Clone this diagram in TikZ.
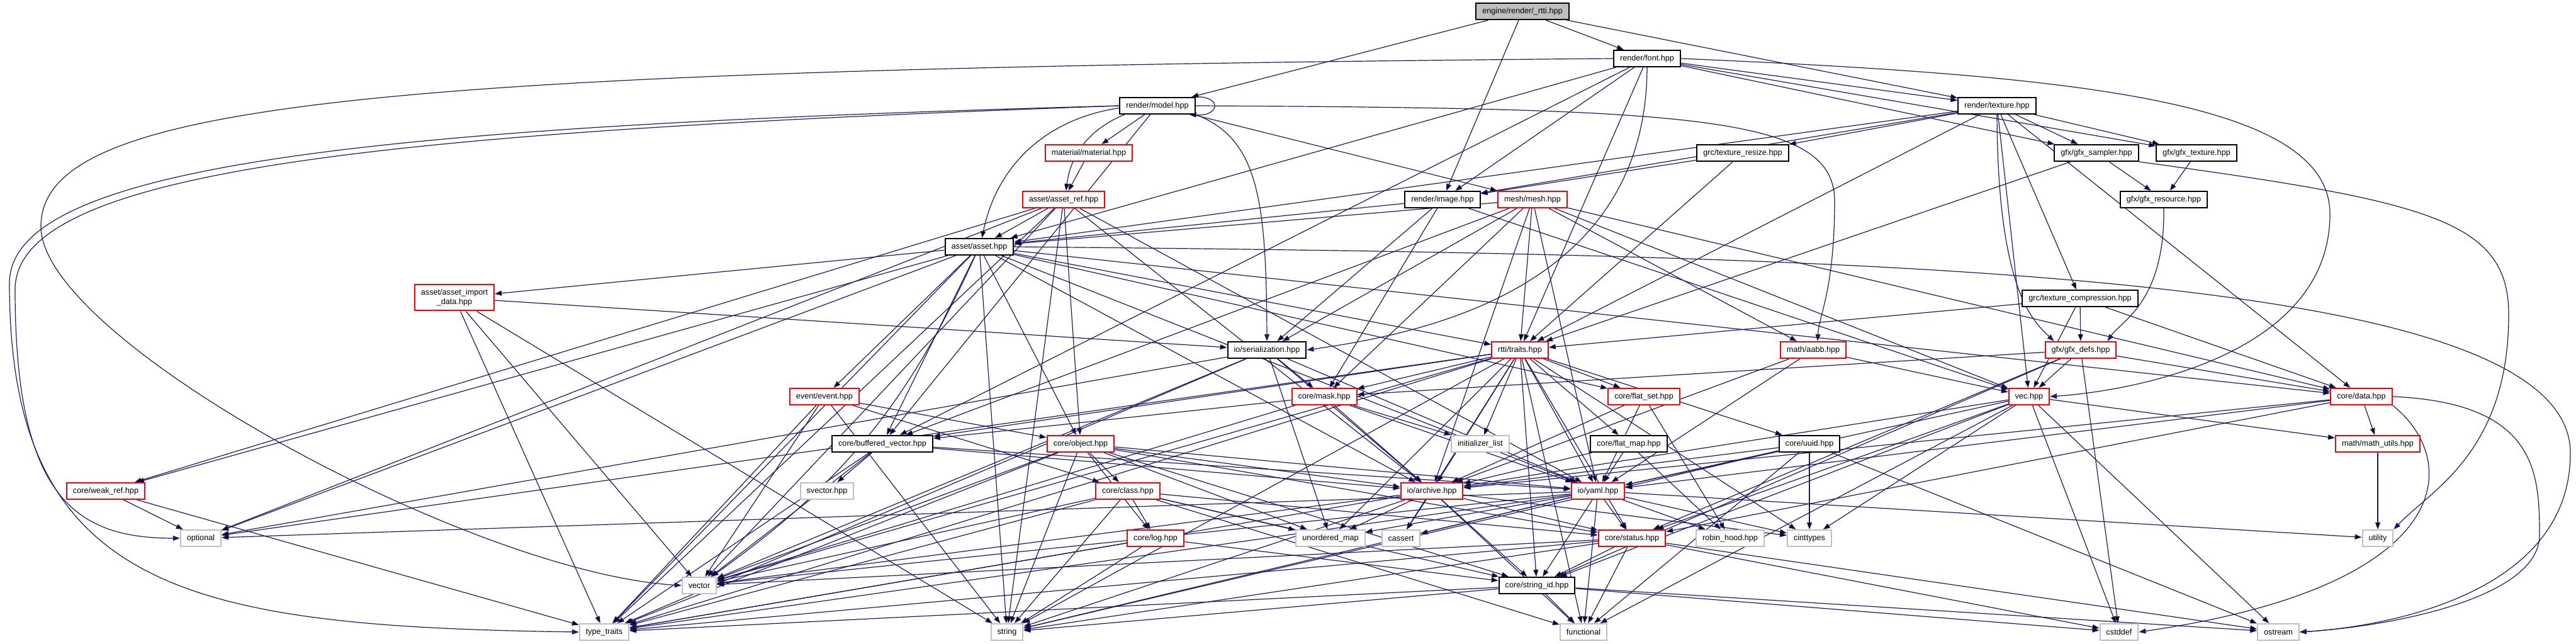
\documentclass[tikz,border=0pt]{standalone}
\usepackage{fontspec}
\setmainfont{Liberation Sans}
\usetikzlibrary{arrows.meta}
\definecolor{edgeblue}{HTML}{191970}
\definecolor{truncred}{HTML}{FF0000}
\definecolor{sysgray}{HTML}{BFBFBF}
\pgfdeclarelayer{background}
\pgfsetlayers{background,main}

\begin{document}
\begin{tikzpicture}[
  every node/.style={font=\fontsize{3.6}{4.3}\selectfont},
  hdr/.style={rectangle, draw=black, line width=0.02cm, fill=white, inner xsep=0.1cm, inner ysep=0cm, minimum height=0.26cm, align=center},
  trunc/.style={hdr, draw=truncred},
  sys/.style={hdr, draw=sysgray},
  dep/.style={-{Triangle[length=0.11cm,width=0.08cm]}, draw=edgeblue, line width=0.012cm}
]
\useasboundingbox (0,0) rectangle (40.93,-10.23);

% headers of the project
\node[hdr, fill=sysgray] (root) at (24.19,-0.18) {engine/render/\_rtti.hpp};
\node[hdr] (font) at (26.17,-0.93) {render/font.hpp};
\node[hdr] (model) at (18.39,-1.68) {render/model.hpp};
\node[hdr] (texture) at (31.73,-1.68) {render/texture.hpp};
\node[trunc] (material) at (17.30,-2.43) {material/material.hpp};
\node[hdr] (texresize) at (27.69,-2.43) {grc/texture\_resize.hpp};
\node[hdr] (sampler) at (33.31,-2.43) {gfx/gfx\_sampler.hpp};
\node[hdr] (gfxtex) at (34.90,-2.43) {gfx/gfx\_texture.hpp};
\node[trunc] (assetref) at (16.90,-3.17) {asset/asset\_ref.hpp};
\node[hdr] (image) at (22.92,-3.17) {render/image.hpp};
\node[trunc] (mesh) at (24.35,-3.17) {mesh/mesh.hpp};
\node[hdr] (gfxres) at (34.38,-3.17) {gfx/gfx\_resource.hpp};
\node[hdr] (asset) at (15.56,-3.92) {asset/asset.hpp};
\node[trunc, minimum height=0.41cm] (importdata) at (7.22,-4.73) {asset/asset\_import\\\_data.hpp};
\node[hdr] (texcomp) at (33.05,-4.74) {grc/texture\_compression.hpp};
\node[hdr] (serial) at (20.13,-5.56) {io/serialization.hpp};
\node[trunc] (traits) at (24.15,-5.56) {rtti/traits.hpp};
\node[trunc] (aabb) at (28.81,-5.56) {math/aabb.hpp};
\node[trunc] (gfxdefs) at (33.06,-5.56) {gfx/gfx\_defs.hpp};
\node[trunc] (event) at (13.10,-6.30) {event/event.hpp};
\node[trunc] (mask) at (21.04,-6.30) {core/mask.hpp};
\node[trunc] (flatset) at (26.12,-6.30) {core/flat\_set.hpp};
\node[trunc] (vec) at (32.24,-6.30) {vec.hpp};
\node[trunc] (data) at (37.52,-6.30) {core/data.hpp};
\node[hdr] (bufvec) at (14.02,-7.05) {core/buffered\_vector.hpp};
\node[trunc] (object) at (17.17,-7.05) {core/object.hpp};
\node[hdr] (flatmap) at (25.88,-7.05) {core/flat\_map.hpp};
\node[hdr] (uuid) at (28.75,-7.05) {core/uuid.hpp};
\node[trunc] (mathutils) at (37.78,-7.05) {math/math\_utils.hpp};
\node[trunc] (weakref) at (1.68,-7.80) {core/weak\_ref.hpp};
\node[trunc] (classh) at (17.92,-7.80) {core/class.hpp};
\node[trunc] (archive) at (22.75,-7.80) {io/archive.hpp};
\node[trunc] (yaml) at (25.39,-7.80) {io/yaml.hpp};
\node[trunc] (logh) at (18.36,-8.55) {core/log.hpp};
\node[trunc] (status) at (25.93,-8.55) {core/status.hpp};
\node[hdr] (strid) at (24.42,-9.30) {core/string\_id.hpp};

% system headers
\node[sys] (svector) at (13.14,-7.80) {svector.hpp};
\node[sys] (initlist) at (23.52,-7.05) {initializer\_list};
\node[sys] (optional) at (3.19,-8.55) {optional};
\node[sys] (umap) at (21.14,-8.55) {unordered\_map};
\node[sys] (cassert) at (22.26,-8.55) {cassert};
\node[sys] (robin) at (27.49,-8.55) {robin\_hood.hpp};
\node[sys] (cinttypes) at (28.75,-8.55) {cinttypes};
\node[sys] (utility) at (37.78,-8.55) {utility};
\node[sys] (vector) at (11.11,-9.30) {vector};
\node[sys] (typetraits) at (9.60,-10.04) {type\_traits};
\node[sys] (str) at (16.00,-10.04) {string};
\node[sys] (functional) at (25.16,-10.04) {functional};
\node[sys] (cstddef) at (33.67,-10.04) {cstddef};
\node[sys] (ostream) at (36.20,-10.04) {ostream};

\begin{pgfonlayer}{background}
\path[dep] (root) edge (font) edge (model) edge (image) edge (texture);

\path[dep] (font) edge (texture) edge (image) edge (asset) edge (bufvec) edge (sampler) edge (gfxtex) edge (traits);
\draw[dep] (font.west) .. controls (6,-1.1) and (0.65,-1.6) .. (0.65,-3.6) .. controls (0.65,-5.4) and (7.5,-9.1) .. (vector.west);
\draw[dep] (font.east) .. controls (33,-1.2) and (37.02,-1.6) .. (37.02,-3.4) .. controls (37.02,-5.6) and (34,-6.2) .. (vec.east);
\draw[dep] (font.south) .. controls (26.16,-4.6) and (22.6,-5.3) .. (serial.east);

\path[dep] (model) edge[bend right=35] (asset) edge[bend right=30] (assetref) edge (material) edge (mesh) edge (bufvec);
\draw[dep] (model.west) .. controls (6,-2.0) and (0.15,-2.6) .. (0.15,-4.5) .. controls (0.15,-9.4) and (3,-9.95) .. (typetraits.west);
\draw[dep] (model.west) .. controls (6,-2.1) and (0.24,-2.7) .. (0.24,-4.6) .. controls (0.24,-7.9) and (1.2,-8.55) .. (optional.west);
\draw[dep] (model.south east) .. controls (20.0,-2.2) and (20.12,-3.2) .. (serial.north);
\draw[dep] (model.east) .. controls (27,-1.72) and (29.15,-1.85) .. (29.15,-3.2) .. controls (29.15,-4.6) and (28.9,-5.0) .. ([xshift=0.07cm]aabb.north);
\draw[dep] ([xshift=-0.03cm]model.north east) .. controls +(0.45,0.03) and +(0.5,-0.03) .. ([xshift=-0.1cm]model.south east);

\path[dep] (texture) edge (asset) edge (image) edge (texresize) edge (sampler) edge (gfxtex) edge (texcomp) edge (traits) edge (data) edge (vec);
\draw[dep] (texture.south) .. controls (31.74,-4.6) and (32.3,-5.1) .. ([xshift=0.15cm]gfxdefs.north west);

\path[dep] (material) edge (assetref);
\path[dep] (assetref) edge (asset) edge (weakref) edge (optional) edge (archive) edge (yaml) edge (vector) edge (typetraits) edge (str) edge (object);
\path[dep] (texresize) edge (image) edge (traits);
\path[dep] (sampler) edge (gfxres) edge (traits);
\draw[dep] (sampler.south east) .. controls (38.6,-3.2) and (39.86,-3.5) .. (39.86,-5.0) .. controls (39.86,-7.2) and (38.6,-7.8) .. (utility.north east);
\path[dep] (gfxtex) edge (gfxres);
\draw[dep] (gfxres.south) .. controls (34.4,-4.8) and (33.7,-5.1) .. ([xshift=-0.15cm]gfxdefs.north east);
\path[dep] (image) edge (asset) edge (serial) edge (mask) edge (vec);
\path[dep] (mesh) edge (asset) edge (serial) edge (traits) edge (mask) edge (aabb) edge (vec) edge (data) edge (bufvec) edge (archive) edge (yaml);

\path[dep] (asset) edge (importdata) edge (event) edge (object) edge (bufvec) edge (traits) edge (flatset) edge (data) edge (optional) edge (weakref) edge[bend left=15] (vector) edge (str) edge (typetraits) edge (archive) edge (yaml);
\draw[dep] (asset.east) .. controls (30,-4.05) and (40.84,-4.3) .. (40.84,-7.2) .. controls (40.84,-9.4) and (38,-9.95) .. (ostream.east);

\path[dep] (importdata) edge (serial) edge (str) edge (typetraits) edge (vector);
\path[dep] (event) edge (object) edge (classh) edge (vector) edge (str) edge (typetraits);
\path[dep] (object) edge (classh) edge (logh) edge (str) edge (vector) edge (typetraits) edge (status) edge (strid) edge (archive) edge (yaml) edge (umap);
\path[dep] (classh) edge (logh) edge (str) edge (vector) edge (typetraits) edge (status) edge (strid) edge (umap) edge (functional);
\path[dep] (logh) edge (str) edge (typetraits) edge (strid);
\path[dep] (bufvec) edge (svector) edge (vector) edge (typetraits) edge (archive) edge (yaml);
\path[dep] (serial) edge (mask) edge (archive) edge (yaml) edge (vector) edge (optional) edge (typetraits) edge (umap);
\path[dep] (traits) edge (mask) edge (flatset) edge (flatmap) edge (uuid) edge (archive) edge (yaml) edge (vector) edge (str) edge (typetraits) edge (initlist) edge (umap) edge (cassert) edge (status) edge (strid) edge (cinttypes) edge (functional) edge (optional) edge (bufvec);
\path[dep] (aabb) edge (vec) edge (archive) edge (yaml);
\path[dep] (mask) edge (vector) edge (archive) edge (yaml) edge (initlist) edge (bufvec);
\path[dep] (flatset) edge (robin) edge (archive) edge (yaml);
\path[dep] (flatmap) edge (archive) edge (yaml) edge (robin);
\path[dep] (uuid) edge (cinttypes) edge (archive) edge (yaml) edge (str) edge (functional) edge (ostream);
\path[dep] (gfxdefs) edge (vec) edge (data) edge (mask) edge (strid) edge (status) edge (cstddef);
\path[dep] (texcomp) edge (gfxdefs) edge (data) edge (traits) edge (vec);
\path[dep] (vec) edge (mathutils) edge (yaml) edge (archive) edge (status) edge (strid) edge (cstddef) edge (ostream) edge (functional) edge (cinttypes);
\path[dep] (data) edge (mathutils) edge (yaml) edge (archive) edge (status);
\draw[dep] (data.east) .. controls (40.3,-6.4) and (40.35,-7.5) .. (40.35,-8.5) .. controls (40.35,-9.5) and (38,-9.95) .. (ostream.east);
\draw[dep] (data.south east) .. controls (39.1,-7.3) and (39.1,-9.3) .. (cstddef.east);
\path[dep] (mathutils) edge (utility);
\path[dep] (weakref) edge (optional) edge (typetraits);
\path[dep] (archive) edge (umap) edge (cassert) edge (strid) edge (status) edge (cinttypes) edge (vector) edge (typetraits) edge (str) edge (functional);
\path[dep] (yaml) edge (umap) edge (cassert) edge (status) edge (strid) edge (robin) edge (cinttypes) edge (functional) edge (str) edge (vector) edge (typetraits) edge (optional) edge (utility);
\path[dep] (status) edge (strid) edge (functional) edge (str) edge (vector) edge (cstddef) edge (ostream) edge (typetraits);
\path[dep] (strid) edge (functional) edge (str) edge (typetraits) edge (cstddef) edge (ostream);
\end{pgfonlayer}
\end{tikzpicture}
\end{document}
